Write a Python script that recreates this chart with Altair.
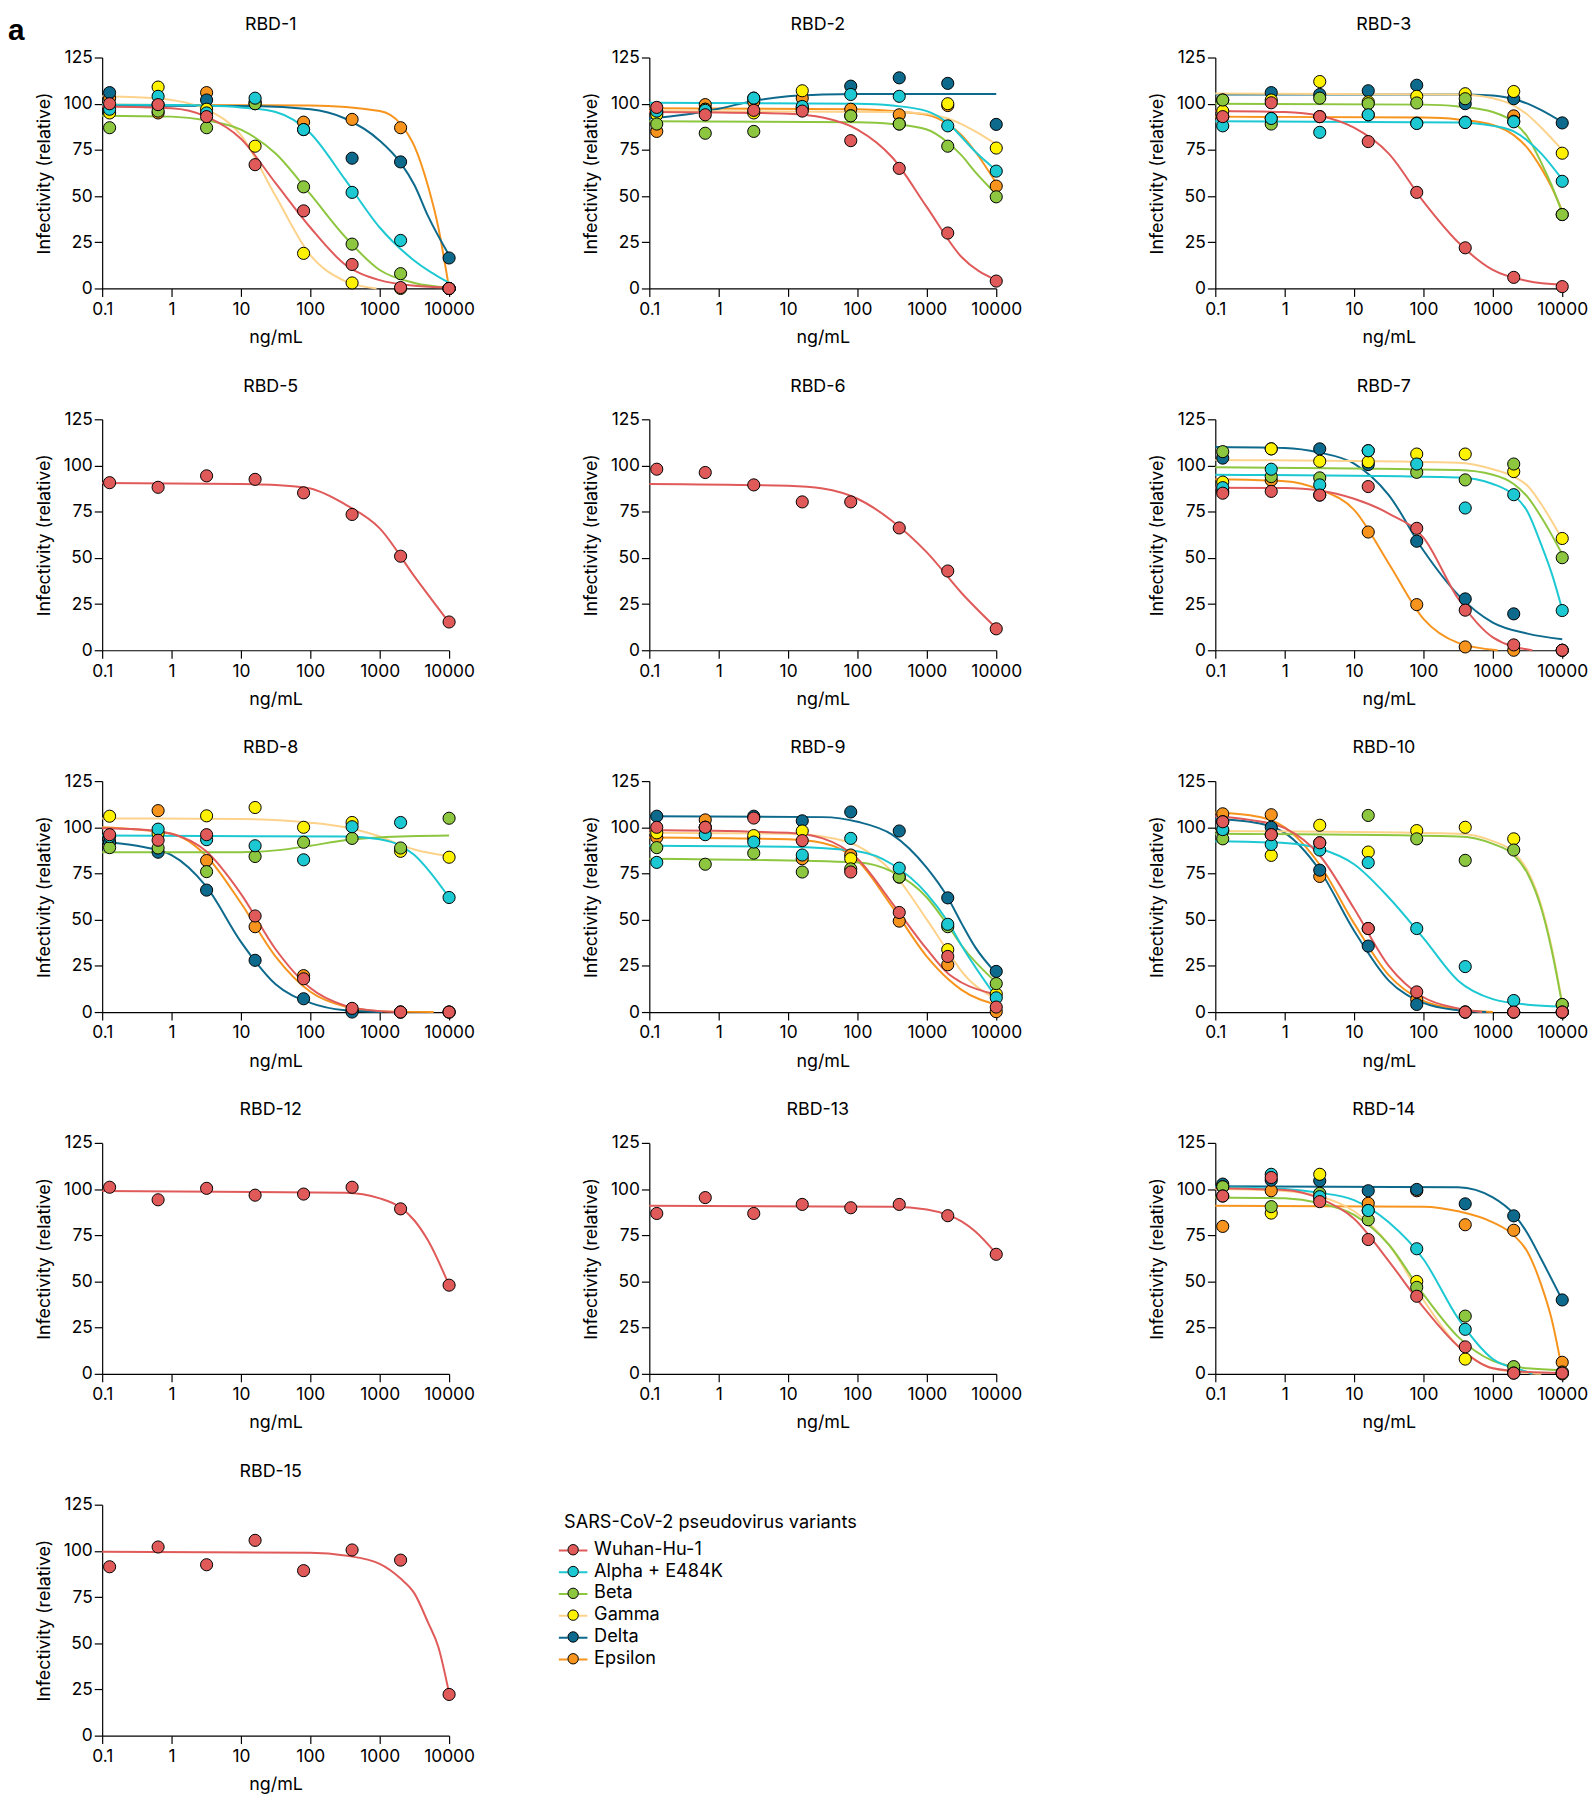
import altair as alt
import pandas as pd

FONT = "Inter"
DOSES = [0.128, 0.64, 3.2, 16, 80, 400, 2000, 10000]
VARIANTS = ["Wuhan-Hu-1", "Alpha + E484K", "Beta", "Gamma", "Delta", "Epsilon"]
POINT_COLORS = ["#E05A5A", "#1CC8D2", "#8DC63F", "#FFF200", "#0D6A8C", "#F7941D"]
LINE_COLORS = ["#E05A5A", "#1CC8D2", "#8DC63F", "#FDD38C", "#0D6A8C", "#F7941D"]
DRAW_ORDER = ["Epsilon", "Delta", "Gamma", "Beta", "Alpha + E484K", "Wuhan-Hu-1"]
LINE_KEYS = [v + " (fit)" for v in VARIANTS]
X_TICKS = [0.1, 1, 10, 100, 1000, 10000]
Y_TICKS = [0, 25, 50, 75, 100, 125]
LAYOUT_ROWS = [["RBD-1", "RBD-2", "RBD-3"], ["RBD-5", "RBD-6", "RBD-7"],
               ["RBD-8", "RBD-9", "RBD-10"], ["RBD-12", "RBD-13", "RBD-14"], ["RBD-15"]]

# ---------------- measured points (8 doses) ----------------
RBD1_POINTS = {
    "Wuhan-Hu-1": [100, 99.5, 93, 67, 42, 13, 0.5, 0],
    "Alpha + E484K": [97, 104, 95, 103, 86, 52, 26, 0],
    "Beta": [87, 96, 87, 100, 55, 24, 8, 0],
    "Gamma": [95, 109, 97, 77, 19, 3, 0, 0],
    "Delta": [106, 99.5, 102, 101, 86, 70.5, 68.5, 16.5],
    "Epsilon": [103, 95, 106, 100, 90, 91.5, 87, 0],
}
RBD2_POINTS = {
    "Wuhan-Hu-1": [98, 94, 96.4, 96, 80, 65, 30, 4],
    "Alpha + E484K": [96, 96.4, 103, 98.5, 105, 104, 88, 63.5],
    "Beta": [89, 84, 85, 97, 93.4, 89, 77, 49.6],
    "Gamma": [94, 97, 95, 107, 93.5, 89, 100, 76],
    "Delta": [95, 97, 103, 98, 109.5, 114, 111, 88.8],
    "Epsilon": [85, 99.5, 101, 103, 97, 94, 99, 55.4],
}
RBD3_POINTS = {
    "Wuhan-Hu-1": [93, 100.5, 93, 79.5, 52, 22, 6, 1],
    "Alpha + E484K": [88, 92, 84.5, 94, 89.3, 89.8, 90.2, 58],
    "Beta": [102, 89, 103, 100, 100.4, 102.7, 90.5, 40],
    "Gamma": [96, 102, 112, 101, 104, 105.4, 106.6, 73.2],
    "Delta": [102, 106, 105, 107, 110, 100, 102.7, 89.6],
    "Epsilon": [93, 92, 93, 94, 89.5, 90, 93.4, 40],
}
RBD5_POINTS = {"Wuhan-Hu-1": [90.7, 88.2, 94.4, 92.5, 85.2, 73.5, 50.9, 15.3]}
RBD6_POINTS = {"Wuhan-Hu-1": [98, 96.2, 89.5, 80.3, 80.3, 66.2, 42.9, 11.6]}
RBD7_POINTS = {
    "Wuhan-Hu-1": [85, 86, 84, 88.6, 66, 21.7, 2.9, 0],
    "Alpha + E484K": [88, 98, 89.5, 108, 100.8, 77, 84.2, 21.5],
    "Beta": [107.5, 94, 93.3, 108, 96.3, 92.2, 100.8, 50.1],
    "Gamma": [91, 109, 102.3, 102, 106.2, 106.2, 96.7, 60.5],
    "Delta": [104, 109, 109, 100.5, 59, 27.8, 19.7, 0],
    "Epsilon": [86, 92, 84, 64, 24.7, 1.8, 0, 0],
}
RBD8_POINTS = {
    "Wuhan-Hu-1": [96, 93, 96, 52, 18, 2, 0, 0],
    "Alpha + E484K": [95, 99, 93.3, 90, 82.4, 100.3, 102.6, 62],
    "Beta": [89, 88.8, 76, 84.2, 91.9, 94, 88.8, 104.9],
    "Gamma": [106, 96.7, 106.2, 110.7, 100, 102.6, 87, 83.8],
    "Delta": [92, 86.5, 66, 28, 7.2, 0, 0, 0],
    "Epsilon": [92, 109, 82, 46.2, 19.7, 0.9, 0, 0],
}
RBD9_POINTS = {
    "Wuhan-Hu-1": [100, 100, 105, 92.8, 75.8, 53.9, 30.1, 2.7],
    "Alpha + E484K": [81, 96, 92, 85, 94, 77.9, 47.5, 7.7],
    "Beta": [89, 80, 86, 75.8, 77.5, 73.1, 46.2, 15.4],
    "Gamma": [97, 100, 95.5, 98, 83, 73, 33.8, 9.8],
    "Delta": [106, 100, 106, 103.5, 108.3, 98, 61.8, 22],
    "Epsilon": [94.5, 104, 94, 83, 85, 49.2, 25.6, 0.2],
}
RBD10_POINTS = {
    "Wuhan-Hu-1": [103, 96, 91.6, 45.2, 10.9, 0, 0, 0],
    "Alpha + E484K": [98.75, 90.7, 87.7, 80.9, 45.2, 24.6, 6.25, 0],
    "Beta": [93.75, 96, 91.6, 106.4, 93.75, 82.1, 87.7, 4.1],
    "Gamma": [98, 84.8, 101.1, 86.6, 98.2, 100, 93.75, 4],
    "Delta": [103, 100, 76.8, 35.7, 4.1, 0, 0, 0],
    "Epsilon": [107.3, 106.8, 73.4, 45.2, 6.8, 0, 0, 0],
}
RBD12_POINTS = {"Wuhan-Hu-1": [101, 94.2, 100.4, 96.7, 97.3, 101, 89.3, 48]}
RBD13_POINTS = {"Wuhan-Hu-1": [86.8, 95.4, 86.8, 91.7, 89.9, 91.7, 85.6, 64.7]}
RBD14_POINTS = {
    "Wuhan-Hu-1": [96.25, 106.25, 93.2, 72.7, 42, 14.6, 0.4, 0.4],
    "Alpha + E484K": [96.25, 108, 95.9, 88.4, 67.7, 24.1, 0.4, 0.4],
    "Beta": [101.25, 90.5, 97.7, 83.4, 46.8, 31.25, 3.9, 1],
    "Gamma": [101.25, 87, 108, 88.4, 50, 8, 1, 0],
    "Delta": [102.7, 104.8, 104.5, 99.1, 99.8, 92, 85.5, 40],
    "Epsilon": [79.8, 99.1, 95, 92.3, 99.1, 80.7, 77.7, 6.25],
}
RBD15_POINTS = {"Wuhan-Hu-1": [91.4, 102.1, 92.5, 105.7, 89.3, 100.5, 95, 22.3]}

# ---------------- fitted curves as (ng/mL, value) ----------------
RBD1_CURVES = {
    "Wuhan-Hu-1": [(0.1, 98.5), (1, 97.5), (3.16, 93), (10, 81), (31.6, 57), (100, 33), (316, 13), (1000, 4.5), (3162, 1.5), (10000, 0.5)],
    "Alpha + E484K": [(0.1, 99.5), (1, 99.3), (3.16, 99), (10, 98), (31.6, 95.5), (100, 84), (316, 59), (1000, 33), (3162, 15), (10000, 3)],
    "Beta": [(0.1, 93.5), (1, 93), (3.16, 91), (10, 86), (31.6, 73), (100, 51), (316, 28), (1000, 10), (3162, 3), (10000, 0.5)],
    "Gamma": [(0.1, 104), (0.316, 103.5), (1, 102), (3.16, 97), (10, 83), (31.6, 50), (100, 18), (316, 4), (900, 0)],
    "Delta": [(0.1, 99), (10, 98.8), (100, 97), (316, 92), (1000, 80), (2000, 68), (3162, 56), (5000, 39), (10000, 18)],
    "Epsilon": [(0.1, 99.5), (100, 99), (1000, 96), (2000, 89), (3162, 77), (5000, 55), (7000, 33), (10000, 0)],
}
RBD2_CURVES = {
    "Wuhan-Hu-1": [(0.1, 95.5), (1, 95.3), (10, 94.5), (31.6, 92.5), (100, 86), (316, 71), (1000, 44), (3162, 17), (10000, 4.5)],
    "Alpha + E484K": [(0.1, 100.5), (100, 100), (316, 99), (1000, 96), (2000, 89.5), (3162, 82), (5000, 74), (10000, 64)],
    "Beta": [(0.1, 90.5), (100, 90), (316, 89), (1000, 86), (2000, 79), (3162, 72), (5000, 63), (10000, 51)],
    "Gamma": [(0.1, 96), (316, 95.5), (1000, 94.5), (2000, 92), (3162, 89), (5000, 85), (10000, 78)],
    "Delta": [(0.1, 92), (0.316, 94), (1, 97.3), (3.16, 101.5), (10, 104), (31.6, 105), (100, 105.3), (10000, 105.3)],
    "Epsilon": [(0.1, 97.5), (100, 97), (316, 96), (1000, 94), (2000, 89), (3162, 83), (5000, 74), (10000, 57)],
}
RBD3_CURVES = {
    "Wuhan-Hu-1": [(0.1, 96), (1, 95.5), (3.16, 93.5), (10, 87), (31.6, 73), (100, 47), (316, 25), (1000, 10), (3162, 4), (10000, 2)],
    "Alpha + E484K": [(0.1, 90.5), (316, 89.8), (1000, 88), (2000, 85), (3162, 80), (5000, 73), (10000, 59)],
    "Beta": [(0.1, 100), (100, 99.5), (316, 98.5), (1000, 95.5), (2000, 90), (3162, 82), (5000, 68), (7000, 56), (10000, 41)],
    "Gamma": [(0.1, 105.5), (316, 105), (1000, 103), (2000, 99), (3162, 94), (5000, 87), (10000, 75)],
    "Delta": [(0.1, 105), (316, 105), (1000, 104.5), (2000, 102.5), (3162, 100), (5000, 96.5), (10000, 90)],
    "Epsilon": [(0.1, 93), (100, 92.5), (316, 91.5), (1000, 88.5), (2000, 83), (3162, 76), (5000, 65), (7000, 55), (10000, 42)],
}
RBD5_CURVES = {"Wuhan-Hu-1": [(0.1, 90.5), (10, 90), (31.6, 89.5), (100, 87.5), (316, 79), (1000, 66), (3162, 40), (10000, 15)]}
RBD6_CURVES = {"Wuhan-Hu-1": [(0.1, 90), (10, 89), (31.6, 87.5), (100, 82), (316, 70), (1000, 53), (3162, 31), (10000, 12)]}
RBD7_CURVES = {
    "Wuhan-Hu-1": [(0.1, 88), (1, 87.8), (3.16, 86.5), (10, 82), (31.6, 74), (100, 61), (316, 28), (1000, 7), (3700, 0)],
    "Alpha + E484K": [(0.1, 95), (316, 93.5), (1000, 90), (2000, 84), (3162, 75), (5000, 57), (7000, 42), (10000, 22)],
    "Beta": [(0.1, 99), (316, 97.5), (1000, 95), (2000, 90), (3162, 83), (5000, 72), (10000, 52)],
    "Gamma": [(0.1, 103), (316, 101.5), (1000, 98), (2000, 94), (3162, 89), (5000, 79), (10000, 60)],
    "Delta": [(0.1, 110), (1, 109.5), (3.16, 107), (10, 101), (31.6, 84), (100, 54), (316, 30), (1000, 15), (3162, 9), (10000, 6)],
    "Epsilon": [(0.1, 92.5), (1, 91.5), (3.16, 87), (10, 76), (31.6, 47), (100, 17), (316, 4), (1170, 0)],
}
RBD8_CURVES = {
    "Wuhan-Hu-1": [(0.1, 99.5), (0.316, 99), (1, 96.5), (3.16, 87), (10, 64), (31.6, 34), (100, 13), (316, 3.5), (1000, 0.5), (2000, 0)],
    "Alpha + E484K": [(0.1, 95.5), (316, 95), (1000, 93.5), (2000, 90), (3162, 85), (5000, 77), (10000, 62)],
    "Beta": [(0.1, 86.5), (10, 86.5), (31.6, 87.5), (100, 90), (316, 93), (1000, 94.5), (10000, 95.5)],
    "Gamma": [(0.1, 104.8), (10, 104.5), (100, 102.5), (316, 100), (1000, 95), (2000, 90.5), (3162, 88), (10000, 84.5)],
    "Delta": [(0.1, 92), (0.316, 90), (1, 85), (3.16, 68), (10, 38), (31.6, 15), (100, 5), (316, 1), (1100, 0)],
    "Epsilon": [(0.1, 100), (1, 96.5), (3.16, 84.5), (10, 59), (31.6, 30), (100, 11), (316, 3), (1000, 0.5), (6000, 0)],
}
RBD9_CURVES = {
    "Wuhan-Hu-1": [(0.1, 98.5), (10, 97), (31.6, 94), (100, 83), (316, 59), (1000, 34), (2000, 21), (3162, 16), (10000, 9.5)],
    "Alpha + E484K": [(0.1, 90), (10, 89.5), (100, 87), (316, 80), (1000, 64), (2000, 49), (3162, 36), (10000, 8)],
    "Beta": [(0.1, 83), (100, 81), (316, 76), (1000, 62), (2000, 47), (3162, 36), (10000, 16)],
    "Gamma": [(0.1, 97), (10, 96.5), (31.6, 95), (100, 90), (316, 76), (1000, 50), (2000, 33), (3162, 22), (10000, 7)],
    "Delta": [(0.1, 106), (31.6, 105.5), (100, 103), (316, 96), (1000, 78), (2000, 62), (3162, 48), (5000, 35), (10000, 21)],
    "Epsilon": [(0.1, 94.5), (10, 93.5), (31.6, 91.5), (100, 82), (316, 57), (1000, 30), (2000, 18), (3162, 12), (10000, 4)],
}
RBD10_CURVES = {
    "Wuhan-Hu-1": [(0.1, 106), (0.316, 104), (1, 99.5), (3.16, 85), (10, 56), (31.6, 25), (100, 8), (316, 2), (700, 0)],
    "Alpha + E484K": [(0.1, 92.5), (1, 91.5), (3.16, 88.5), (10, 80), (31.6, 62), (100, 40), (316, 17), (1000, 7), (3162, 4), (10000, 3)],
    "Beta": [(0.1, 96.5), (316, 95), (1000, 91), (2000, 85), (3162, 75), (5000, 56), (7000, 34), (10000, 4)],
    "Gamma": [(0.1, 98), (316, 96.5), (1000, 92.5), (2000, 86.5), (3162, 76.5), (5000, 57.5), (7000, 35.5), (10000, 5)],
    "Delta": [(0.1, 104.5), (0.316, 103), (1, 97), (3.16, 77), (10, 44), (31.6, 17), (100, 5), (316, 1), (800, 0)],
    "Epsilon": [(0.1, 108), (0.316, 106.5), (1, 100), (3.16, 80), (10, 48), (31.6, 20), (100, 6), (316, 1.5), (1000, 0)],
}
RBD12_CURVES = {"Wuhan-Hu-1": [(0.1, 99), (316, 98), (1000, 95), (2000, 90), (3162, 83), (5000, 72), (10000, 48)]}
RBD13_CURVES = {"Wuhan-Hu-1": [(0.1, 91), (316, 90.5), (1000, 89), (2000, 86), (3162, 82.5), (5000, 77), (10000, 65)]}
RBD14_CURVES = {
    "Wuhan-Hu-1": [(0.1, 100.5), (1, 99.5), (3.16, 95), (10, 84), (31.6, 61), (100, 36), (316, 15), (1000, 3), (3162, 1), (10000, 0.5)],
    "Alpha + E484K": [(0.1, 101), (1, 100), (3.16, 98), (10, 94), (31.6, 82), (100, 62), (316, 30), (1000, 8), (3162, 1), (3700, 0)],
    "Beta": [(0.1, 95.5), (1, 95), (3.16, 92.5), (10, 86), (31.6, 70), (100, 43), (316, 20), (1000, 7), (3162, 3), (10000, 2)],
    "Gamma": [(0.1, 100), (1, 99), (3.16, 96), (10, 88), (31.6, 70), (100, 40), (316, 15), (1000, 3), (3162, 0.5), (5000, 0)],
    "Delta": [(0.1, 101.5), (316, 101), (1000, 95.5), (2000, 86.5), (3162, 76), (5000, 62), (10000, 40)],
    "Epsilon": [(0.1, 91), (100, 90.5), (316, 88), (1000, 82), (2000, 75), (3162, 66), (5000, 48), (7000, 30), (10000, 2)],
}
RBD15_CURVES = {"Wuhan-Hu-1": [(0.1, 99.5), (100, 99), (316, 97.5), (1000, 93), (2000, 85), (3162, 77), (5000, 61), (7000, 48), (10000, 23)]}

PANELS = {
    "RBD-1": (RBD1_POINTS, RBD1_CURVES), "RBD-2": (RBD2_POINTS, RBD2_CURVES),
    "RBD-3": (RBD3_POINTS, RBD3_CURVES), "RBD-5": (RBD5_POINTS, RBD5_CURVES),
    "RBD-6": (RBD6_POINTS, RBD6_CURVES), "RBD-7": (RBD7_POINTS, RBD7_CURVES),
    "RBD-8": (RBD8_POINTS, RBD8_CURVES), "RBD-9": (RBD9_POINTS, RBD9_CURVES),
    "RBD-10": (RBD10_POINTS, RBD10_CURVES), "RBD-12": (RBD12_POINTS, RBD12_CURVES),
    "RBD-13": (RBD13_POINTS, RBD13_CURVES), "RBD-14": (RBD14_POINTS, RBD14_CURVES),
    "RBD-15": (RBD15_POINTS, RBD15_CURVES),
}

LINE_KEY = dict(zip(VARIANTS, LINE_KEYS))
LEG_X, LEG_Y = 466, 1470
LEG_TITLE_H = 27
LEG_TITLE = "SARS-CoV-2 pseudovirus variants"
COMMON_LEG = dict(orient="none", legendX=LEG_X, labelFontSize=18.3, labelFont=FONT, labelOffset=12,
                  symbolSize=110, rowPadding=3, symbolOpacity=1, labelLimit=400)
FILL_LEGEND = alt.Legend(legendY=LEG_Y, title=LEG_TITLE, titleFontSize=18.3, titleFontWeight="normal",
                         titleFont=FONT, titlePadding=8, titleLimit=500, titleColor="black",
                         symbolType="circle", symbolStrokeColor="black", symbolStrokeWidth=1,
                         labelColor="black", zindex=2, **COMMON_LEG)
STROKE_LEGEND = alt.Legend(legendY=LEG_Y + LEG_TITLE_H, title=None, labelExpr="''",
                           symbolType="M-2.75,0H-1.05M1.05,0H2.75", symbolStrokeWidth=2,
                           zindex=1, **COMMON_LEG)

XS = alt.Scale(type="log", domain=[0.1, 10000], nice=False)
YS = alt.Scale(domain=[0, 125], nice=False, zero=False)
XA = alt.Axis(values=X_TICKS, format="~g", grid=False, tickSize=8, labelPadding=4,
              titlePadding=11, labelFlush=False, labelOverlap=False)
YA = alt.Axis(values=Y_TICKS, grid=False, tickSize=8, labelPadding=2, titlePadding=10)


def panel(name):
    pts, crv = PANELS[name]
    prow, crow = [], []
    for v in DRAW_ORDER:
        if v in pts:
            for d, val in zip(DOSES, pts[v]):
                prow.append({"dose": d, "value": val, "variant": v})
        if v in crv:
            for x, y in crv[v]:
                crow.append({"x": x, "y": y, "series": LINE_KEY[v]})
    lines = alt.Chart(pd.DataFrame(crow)).mark_line(strokeWidth=2, interpolate="monotone").encode(
        x=alt.X("x:Q", scale=XS, axis=XA, title="ng/mL"),
        y=alt.Y("y:Q", scale=YS, axis=YA, title="Infectivity (relative)"),
        stroke=alt.Stroke("series:N", scale=alt.Scale(domain=LINE_KEYS, range=LINE_COLORS),
                          legend=STROKE_LEGEND),
    )
    points = alt.Chart(pd.DataFrame(prow)).mark_point(
        shape="circle", filled=True, size=150, stroke="black", strokeWidth=1, opacity=1
    ).encode(
        x=alt.X("dose:Q", scale=XS, axis=XA, title="ng/mL"),
        y=alt.Y("value:Q", scale=YS, axis=YA, title="Infectivity (relative)"),
        fill=alt.Fill("variant:N", scale=alt.Scale(domain=VARIANTS, range=POINT_COLORS),
                      legend=FILL_LEGEND),
    )
    return alt.layer(lines, points).properties(
        width=350, height=233,
        title=alt.TitleParams(text=name, anchor="middle", frame="group", dx=-5, offset=15,
                              fontSize=18, fontWeight="normal", font=FONT, color="black"),
    )


rows = []
for r in LAYOUT_ROWS:
    if len(r) == 3:
        inner = alt.hconcat(panel(r[0]), panel(r[1]), spacing=108).resolve_scale(fill="shared", stroke="shared")
        row = alt.hconcat(inner, panel(r[2]), spacing=127).resolve_scale(fill="shared", stroke="shared")
    else:
        row = panel(r[0])
    rows.append(row)

chart = alt.vconcat(*rows, spacing=31).resolve_scale(fill="shared", stroke="shared").properties(
    padding={"left": 0, "top": 0, "right": 0, "bottom": 0},
    title=alt.TitleParams(text="a", orient="left", anchor="end", angle=0, align="left", baseline="top",
                          fontSize=30, fontWeight="bold", font="Liberation Sans", color="black",
                          offset=11),
).configure_view(stroke=None).configure_axis(
    labelFont=FONT, titleFont=FONT, labelFontSize=17.5, titleFontSize=18, titleFontWeight="normal",
    labelColor="black", titleColor="black", domainColor="black", tickColor="black",
    domainWidth=1.2, tickWidth=1.2,
)

chart.save("out.html", embed_options={"renderer": "svg", "actions": False})
